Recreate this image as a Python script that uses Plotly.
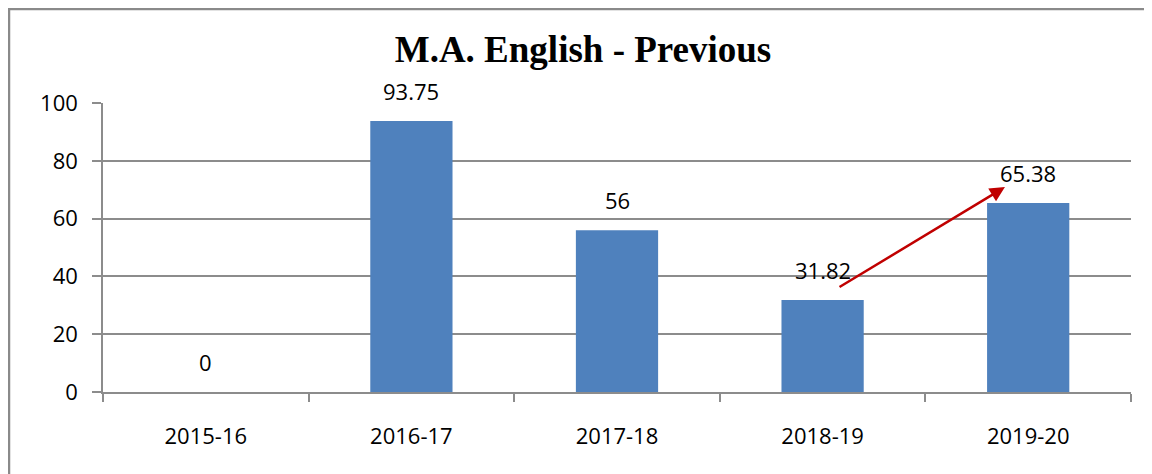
import plotly.graph_objects as go

categories = ["2015-16", "2016-17", "2017-18", "2018-19", "2019-20"]
values = [0, 93.75, 56, 31.82, 65.38]
labels = ["0", "93.75", "56", "31.82", "65.38"]
title_text = "M.A. English - Previous"
y_ticks = [0, 20, 40, 60, 80, 100]

# arrow annotation (data coordinates: category index, value)
arrow_from = (3.075, 36.0)
arrow_to = (3.887, 70.9)

BAR_COLOR = "#4F81BD"
GRID = "#8C8C8C"
FONT = "Open Sans"

# page body adds an 8px offset; size the figure to compensate
OFF = 8
W, H = 1152 - OFF, 474 - OFF
L, T = 103 - OFF, 103 - OFF
R = W - (1131 - OFF)
B = H - (392 - OFF)
PW, PH = W - L - R, H - T - B

fig = go.Figure()
fig.add_trace(go.Bar(x=categories, y=values, marker=dict(color=BAR_COLOR, line=dict(width=0)),
                     hoverinfo="x+y"))

for c, v, t in zip(categories, values, labels):
    fig.add_annotation(x=c, y=v, text=t, showarrow=False, yanchor="bottom", yshift=13,
                       font=dict(family=FONT, size=22, color="black"))

fig.add_annotation(x=arrow_to[0], y=arrow_to[1], ax=arrow_from[0], ay=arrow_from[1],
                   xref="x", yref="y", axref="x", ayref="y", text="", showarrow=True,
                   arrowhead=2, arrowsize=1.2, arrowwidth=2.5, arrowcolor="#C00000")

# outer frame: top and left edges only (figure pixel coords -> paper)
def px(xp):
    return (xp - L) / PW

def py(yp):
    return (H - B - yp) / PH

frame = dict(color="#8A8A8A", width=2.5)
fig.add_shape(type="line", xref="paper", yref="paper", x0=px(0), x1=px(W + 5), y0=py(1), y1=py(1),
              line=frame, layer="below")
fig.add_shape(type="line", xref="paper", yref="paper", x0=px(1), x1=px(1), y0=py(0), y1=py(H + 5),
              line=frame, layer="below")

fig.update_layout(
    width=W, height=H,
    margin=dict(l=L, r=R, t=T, b=B, autoexpand=False),
    paper_bgcolor="white", plot_bgcolor="white",
    bargap=0.6, showlegend=False,
    title=dict(text="<b>" + title_text + "</b>", x=(583 - OFF) / W, xref="container", xanchor="center",
               y=1 - (49 - OFF) / H, yref="container", yanchor="middle",
               font=dict(family="Liberation Serif", size=37, color="black")),
    font=dict(family=FONT, size=22, color="black"),
)
fig.update_xaxes(type="category", showline=True, linecolor=GRID, linewidth=1.5,
                 ticks="outside", tickson="boundaries", ticklen=8, tickcolor=GRID, tickwidth=1.5,
                 showgrid=False, ticklabelstandoff=24, range=[-0.5, 4.5],
                 tickfont=dict(family=FONT, size=22))
fig.update_yaxes(range=[0, 100], tickvals=y_ticks, showline=True, linecolor=GRID, linewidth=1.5,
                 ticks="outside", ticklen=9, tickcolor=GRID, tickwidth=1.5,
                 showgrid=True, gridcolor=GRID, gridwidth=1.5, zeroline=False,
                 ticklabelstandoff=10, tickfont=dict(family=FONT, size=22))

fig.write_html("out.html")
